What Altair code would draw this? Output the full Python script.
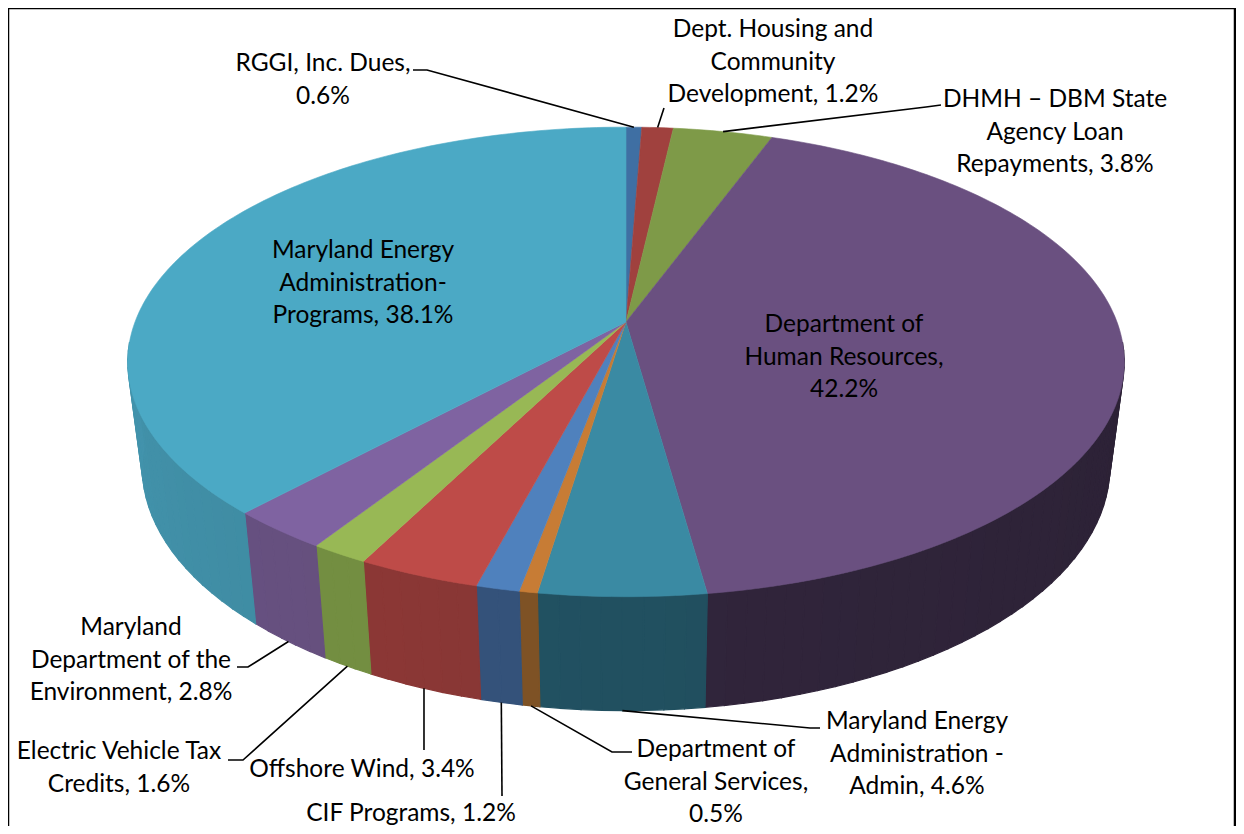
import math
import altair as alt
import pandas as pd

# ---- chart values -------------------------------------------------------
LABELS = [
    "RGGI, Inc. Dues,\n0.6%",
    "Dept. Housing and\nCommunity\nDevelopment, 1.2%",
    "DHMH \u2013 DBM State\nAgency Loan\nRepayments, 3.8%",
    "Department of\nHuman Resources,\n42.2%",
    "Maryland Energy\nAdministration -\nAdmin, 4.6%",
    "Department of\nGeneral Services,\n0.5%",
    "CIF Programs, 1.2%",
    "Offshore Wind, 3.4%",
    "Electric Vehicle Tax\nCredits, 1.6%",
    "Maryland\nDepartment of the\nEnvironment, 2.8%",
    "Maryland Energy\nAdministration-\nPrograms, 38.1%",
]
SHARES = [0.6, 1.2, 3.8, 42.2, 4.6, 0.5, 1.2, 3.4, 1.6, 2.8, 38.1]
TOP_COLORS = ["#3F6FA3", "#A0413E", "#7E9A48", "#6A5080", "#3A8AA3", "#C77C35",
              "#4F81BD", "#BE4B48", "#98B855", "#7F63A1", "#4BA9C5"]
SIDE_COLORS = ["#2A4A6E", "#6B2B2A", "#556830", "#2E2338", "#215060", "#7E5225",
               "#34527A", "#8A3735", "#738E41", "#66507F", "#4190A8"]
TITLE = "Chart 2: FY16 SEIF Allocations"

# ---- layout (page pixels) ----------------------------------------------
LABEL_X = [323, 773, 1055, 844, 917, 716, 411, 362, 119, 131, 363]
LABEL_Y = [71, 37, 107, 332, 729, 757, 821, 777, 759, 635, 258]
# elbow points of the leader lines, from the label side towards the pie
ELBOWS = {
    0: [(413, 70), (427, 70)],
    1: [(664, 108)],
    2: [(941, 105), (926, 107)],
    4: [(820, 728), (810, 728)],
    5: [(632, 752), (612, 752)],
    6: [(502, 796)],
    7: [(424, 750)],
    8: [(228, 760), (243, 760)],
    9: [(237, 667), (248, 667)],
}
CX, CY, A, B, K = 626.0, 322.0, 491.0, 228.0, 0.17
FONT = "Lato"
FONT_SIZE = 24.5


def top(theta):
    t = math.radians(theta)
    w = 1 + K * math.cos(t)
    return CX + A * math.sin(t) / w, CY - B * math.cos(t) / w


def rim(theta):
    x, y = top(theta)
    return CX + 0.971 * (x - CX), 467 + 1.038 * (y - 362)


def shade(color, f):
    rgb = [int(color[i:i + 2], 16) for i in (1, 3, 5)]
    return "#" + "".join(f"{min(255, max(0, round(c * f))):02x}" for c in rgb)


edges = [0.0]
for s in SHARES:
    edges.append(edges[-1] + s * 3.6)
edges[-1] = 360.0

top_rows, side_rows, leader_rows = [], [], []
for i, (a0, a1) in enumerate(zip(edges[:-1], edges[1:])):
    steps = max(2, int(a1 - a0))
    pts = [(CX, CY)] + [top(a0 + (a1 - a0) * j / steps) for j in range(steps + 1)] + [(CX, CY)]
    for n, (x, y) in enumerate(pts):
        top_rows.append(dict(pid=f"t{i}", seq=n, x=x, y=y, c=TOP_COLORS[i]))

    lo, hi = max(a0, 95.0), min(a1, 265.0)
    if hi > lo:
        mid = (lo + hi) / 2
        n_strips = max(1, round((hi - lo) / 2))
        for j in range(n_strips):
            b0 = lo + (hi - lo) * j / n_strips
            b1 = lo + (hi - lo) * (j + 1) / n_strips
            col = shade(SIDE_COLORS[i], 1 + 0.0012 * ((b0 + b1) / 2 - mid))
            quad = [top(b0), top(b1), rim(b1), rim(b0), top(b0)]
            for n, (x, y) in enumerate(quad):
                side_rows.append(dict(pid=f"s{i}_{j}", seq=n, x=x, y=y, c=col))

    if i in ELBOWS:
        m = (a0 + a1) / 2
        anchor = top(m) if (m < 90 or m > 270) else rim(m)
        for n, (x, y) in enumerate(ELBOWS[i] + [anchor]):
            leader_rows.append(dict(pid=f"l{i}", seq=n, x=x, y=y))

labels = pd.DataFrame(dict(x=LABEL_X, y=LABEL_Y, text=LABELS))
frame = pd.DataFrame(dict(
    pid=["f"] * 4, seq=range(4),
    x=[8, 8, 1235, 1235], y=[830, 8, 8, 830]))
title = pd.DataFrame(dict(x=[10], y=[5], text=[TITLE]))

xs = alt.Scale(domain=[8, 1236], range=[0, 1228], nice=False, zero=False)
ys = alt.Scale(domain=[8, 826], range=[0, 818], nice=False, zero=False)
X = alt.X("x:Q", scale=xs, axis=None)
Y = alt.Y("y:Q", scale=ys, axis=None)


def polys(rows, sw):
    return alt.Chart(pd.DataFrame(rows)).mark_line(strokeWidth=sw, interpolate="linear").encode(
        x=X, y=Y,
        detail="pid:N",
        order="seq:Q",
        fill=alt.Fill("c:N", scale=None),
        stroke=alt.Stroke("c:N", scale=None),
    )


sides = polys(side_rows, 1.2)
tops = polys(top_rows, 0.6)
leaders = alt.Chart(pd.DataFrame(leader_rows)).mark_line(color="black", strokeWidth=1.6).encode(
    x=X, y=Y, detail="pid:N", order="seq:Q")
frame_ch = alt.Chart(frame).mark_line(color="black", strokeWidth=2.5).encode(
    x=X, y=Y, detail="pid:N", order="seq:Q")
label_ch = alt.Chart(labels).mark_text(
    font=FONT, fontSize=FONT_SIZE, color="black", align="center", baseline="alphabetic",
    lineBreak="\n", lineHeight=32.7).encode(x=X, y=Y, text="text:N")
title_ch = alt.Chart(title).mark_text(
    font="Liberation Serif", fontSize=22, fontWeight="bold", color="black",
    align="left", baseline="alphabetic").encode(x=X, y=Y, text="text:N")

chart = alt.layer(frame_ch, sides, tops, leaders, label_ch, title_ch).properties(
    width=1228, height=818, padding=0,
    autosize=alt.AutoSizeParams(type="none"),
).configure_view(stroke=None).configure(background="white")

chart.save("out.html", embed_options={"renderer": "svg", "actions": False})
